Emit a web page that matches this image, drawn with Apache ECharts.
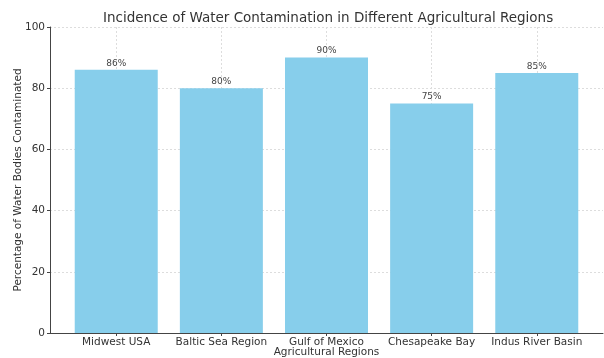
<!DOCTYPE html>
<html>
<head>
<meta charset="utf-8">
<script src="https://cdn.jsdelivr.net/npm/echarts@6/dist/echarts.min.js"></script>
<style>
  html, body { margin: 0; padding: 0; background: #fff; }
  #bar { width: 604px; height: 358px; }
</style>
</head>
<body>
<div id="bar"></div>
<script>
// chart data
const categories = ['Midwest USA', 'Baltic Sea Region', 'Gulf of Mexico', 'Chesapeake Bay', 'Indus River Basin']
const contamination = [86, 80, 90, 75, 85]
const yTicks = [0, 20, 40, 60, 80, 100]

const idx = categories.map((c, i) => i)
const font = 'DejaVu Sans'

const chart = echarts.init(document.getElementById('bar'))
const option = {
    animation: false,
    textStyle: { fontFamily: font },
    title: {
        text: 'Incidence of Water Contamination in Different Agricultural Regions',
        left: 98,
        top: 6,
        textStyle: { fontFamily: font, fontSize: 13.5, fontWeight: 'normal', color: '#333' }
    },
    grid: { left: 50, right: 1, top: 27, bottom: 25, outerBoundsMode: 'none', containLabel: false },
    xAxis: {
        type: 'value',
        min: -0.63,
        max: 4.63,
        name: 'Agricultural Regions',
        nameLocation: 'middle',
        nameGap: 14,
        nameMoveOverlap: false,
        nameTextStyle: { fontSize: 10.5, color: '#333' },
        axisLine: { onZero: false, lineStyle: { color: '#444', width: 1 } },
        axisTick: { show: true, customValues: idx, length: 3, lineStyle: { color: '#444' } },
        axisLabel: {
            customValues: idx,
            fontSize: 10.5,
            color: '#333',
            margin: 4,
            formatter: v => categories[Math.round(v)]
        },
        splitLine: { show: true, lineStyle: { color: '#ddd', type: [2, 2], width: 1 } }
    },
    yAxis: {
        type: 'value',
        min: yTicks[0],
        max: yTicks[yTicks.length - 1],
        interval: 20,
        name: 'Percentage of Water Bodies Contaminated',
        nameLocation: 'middle',
        nameGap: 26,
        nameMoveOverlap: false,
        nameTextStyle: { fontSize: 10.5, color: '#333' },
        axisLine: { show: true, onZero: false, lineStyle: { color: '#444', width: 1 } },
        axisTick: { show: true, length: 3, lineStyle: { color: '#444' } },
        axisLabel: { fontSize: 10.5, color: '#333', margin: 5 },
        splitLine: { show: true, lineStyle: { color: '#ddd', type: [2, 2], width: 1 } }
    },
    series: [{
        type: 'bar',
        data: contamination.map((v, i) => [i, v]),
        barWidth: 83,
        itemStyle: { color: '#87CEEB' },
        label: {
            show: true,
            position: 'top',
            distance: 2,
            fontSize: 9,
            color: '#444',
            formatter: p => p.value[1] + '%'
        }
    }]
}
chart.setOption(option)
window.addEventListener('resize', () => chart.resize())
</script>
</body>
</html>
